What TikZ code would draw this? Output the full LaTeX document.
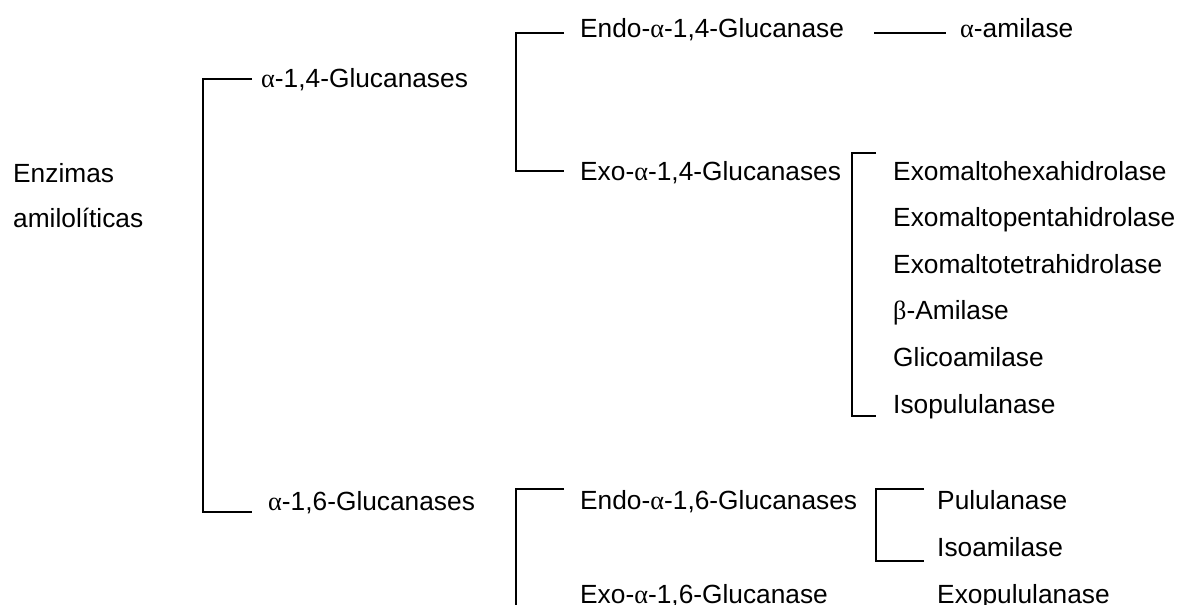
\documentclass[tikz,border=0pt]{standalone}
\usepackage{fontspec}
\setmainfont{Liberation Sans}
\newfontfamily\grkfont{Liberation Serif}
\usetikzlibrary{positioning}

\newcommand{\galpha}{{\grkfont α}}
\newcommand{\gbeta}{{\grkfont β}}

\tikzset{
    lbl/.style={anchor=base west, inner sep=0pt, font=\fontsize{26.3}{31}\selectfont},
    link/.style={-, line width=1.8pt}
}

\begin{document}
\begin{tikzpicture}[x=1pt, y=-1pt]

        \useasboundingbox (0,0) rectangle (1181,605);
        \clip (0,0) rectangle (1181,605);

        % root
        \node (1) [lbl] at (13,182) {Enzimas};
        \node (2) [lbl] at (13,227) {amilolíticas};

        % first level
        \node (3) [lbl] at (261,87) {\galpha-1,4-Glucanases};
        \node (4) [lbl] at (268,510) {\galpha-1,6-Glucanases};

        % alpha-1,4
        \node (5) [lbl] at (580,37) {Endo-\galpha-1,4-Glucanase};
        \node (6) [lbl] at (960,37) {\galpha-amilase};
        \node (7) [lbl] at (580,180) {Exo-\galpha-1,4-Glucanases};

        \node (8) [lbl] at (893,180) {Exomaltohexahidrolase};
        \node (9) [lbl] at (893,226.6) {Exomaltopentahidrolase};
        \node (10) [lbl] at (893,273.2) {Exomaltotetrahidrolase};
        \node (11) [lbl] at (893,319.8) {\gbeta-Amilase};
        \node (12) [lbl] at (893,366.4) {Glicoamilase};
        \node (13) [lbl] at (893,413) {Isopululanase};

        % alpha-1,6
        \node (14) [lbl] at (580,509) {Endo-\galpha-1,6-Glucanases};
        \node (15) [lbl] at (580,603.5) {Exo-\galpha-1,6-Glucanase};

        \node (16) [lbl] at (937,509) {Pululanase};
        \node (17) [lbl] at (937,556) {Isoamilase};
        \node (18) [lbl] at (937,603.5) {Exopululanase};

        % bracket ends
        \coordinate (a1) at (252,79);
        \coordinate (a2) at (203,512);
        \coordinate (a3) at (252,512);
        \coordinate (b1) at (564,33);
        \coordinate (b2) at (516,171);
        \coordinate (b3) at (564,171);
        \coordinate (c1) at (876,153);
        \coordinate (c2) at (852,416);
        \coordinate (c3) at (876,416);
        \coordinate (d1) at (564,489);
        \coordinate (d2) at (516,620);
        \coordinate (e1) at (924,489);
        \coordinate (e2) at (876,561);
        \coordinate (e3) at (924,561);
        \coordinate (f1) at (874,33);
        \coordinate (f2) at (946,33);

        \draw[link] (a1) -| (a2) -- (a3);
        \draw[link] (b1) -| (b2) -- (b3);
        \draw[link] (c1) -| (c2) -- (c3);
        \draw[link] (d1) -| (d2);
        \draw[link] (e1) -| (e2) -- (e3);
        \draw[link] (f1) -- (f2);
    \end{tikzpicture}
\end{document}
